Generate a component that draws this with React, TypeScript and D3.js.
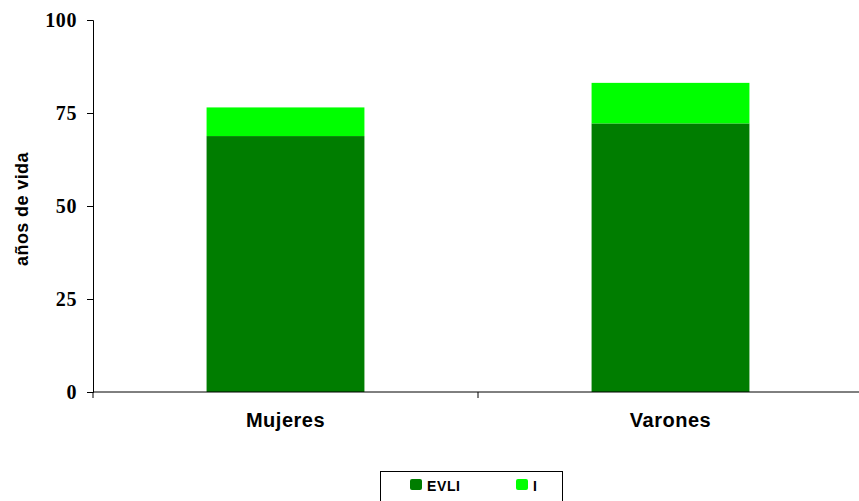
import { useEffect, useRef } from "react";
import * as d3 from "d3";

const categories = ["Mujeres", "Varones"];
const evli = [68.8, 72.2];
const incap = [7.7, 10.9];
const seriesNames = ["EVLI", "I"];
const seriesColors = ["#007d00", "#00ff00"];
const yTicks = [0, 25, 50, 75, 100];

export default function App() {
  const svgRef = useRef<SVGSVGElement>(null);

  useEffect(() => {
    if (!svgRef.current) return;
    const W = 859;
    const H = 501;
    const svg = d3.select(svgRef.current);
    svg.selectAll("*").remove();

    const left = 93, right = 863, top = 20, bottom = 392;
    const sans = "'Liberation Sans', Arial, sans-serif";

    const x = d3.scaleBand<string>().domain(categories).range([left, right]).paddingInner(0.59).paddingOuter(0.295);
    const y = d3.scaleLinear().domain([0, 100]).range([bottom, top]);

    const rows = categories.map((c, i) => ({ cat: c, EVLI: evli[i], I: incap[i] }));
    const stacked = d3.stack<any>().keys(seriesNames)(rows);

    // ── Bars ──
    stacked.forEach((layer, si) => {
      svg.append("g")
        .selectAll("rect")
        .data(layer)
        .join("rect")
        .attr("x", (d) => x(d.data.cat)!)
        .attr("width", x.bandwidth())
        .attr("y", (d) => y(d[1]))
        .attr("height", (d) => y(d[0]) - y(d[1]))
        .attr("fill", seriesColors[si]);
    });

    // ── Y axis ──
    const yAxis = d3.axisLeft(y).tickValues(yTicks).tickSize(6).tickPadding(10);
    svg.append("g")
      .attr("transform", `translate(${left},0)`)
      .call(yAxis)
      .call((ax) => ax.selectAll("path,line").attr("stroke", "#000").attr("stroke-width", 1))
      .call((ax) => ax.selectAll("text")
        .attr("fill", "#000")
        .attr("font-family", "'Liberation Serif', 'DejaVu Serif', serif")
        .attr("font-weight", "bold")
        .attr("font-size", 20)
        .attr("letter-spacing", 0.6));

    // ── X axis ──
    svg.append("line")
      .attr("x1", left).attr("x2", right)
      .attr("y1", bottom).attr("y2", bottom)
      .attr("stroke", "#000");
    [left, (left + right) / 2, right].forEach((tx) => {
      svg.append("line")
        .attr("x1", tx).attr("x2", tx)
        .attr("y1", bottom).attr("y2", bottom + 6)
        .attr("stroke", "#000");
    });
    categories.forEach((c) => {
      svg.append("text")
        .attr("x", x(c)! + x.bandwidth() / 2)
        .attr("y", 427)
        .attr("text-anchor", "middle")
        .attr("font-family", sans)
        .attr("font-weight", "bold")
        .attr("font-size", 20)
        .attr("letter-spacing", 0.5)
        .text(c);
    });

    // ── Y title ──
    svg.append("text")
      .attr("transform", `translate(28,${(top + bottom) / 2 + 3}) rotate(-90)`)
      .attr("text-anchor", "middle")
      .attr("font-family", sans)
      .attr("font-weight", "bold")
      .attr("font-size", 18)
      .attr("letter-spacing", 0.4)
      .text("años de vida");

    // ── Legend ──
    const lg = svg.append("g");
    lg.append("rect")
      .attr("x", 380.5).attr("y", 471.5)
      .attr("width", 182).attr("height", 40)
      .attr("fill", "#fff").attr("stroke", "#000");
    const lx = [410, 516];
    seriesNames.forEach((s, i) => {
      lg.append("rect")
        .attr("x", lx[i]).attr("y", 479)
        .attr("width", 12).attr("height", 11)
        .attr("rx", 2)
        .attr("fill", seriesColors[i]);
      lg.append("text")
        .attr("x", lx[i] + 17).attr("y", 491)
        .attr("font-family", sans)
        .attr("font-weight", "bold")
        .attr("font-size", 14)
        .attr("letter-spacing", 0.6)
        .text(s);
    });

    svg.attr("width", W).attr("height", H);
  }, []);

  return (
    <svg
      ref={svgRef}
      width={859}
      height={501}
      style={{ position: "absolute", left: 0, top: 0, background: "#fff" }}
    />
  );
}
